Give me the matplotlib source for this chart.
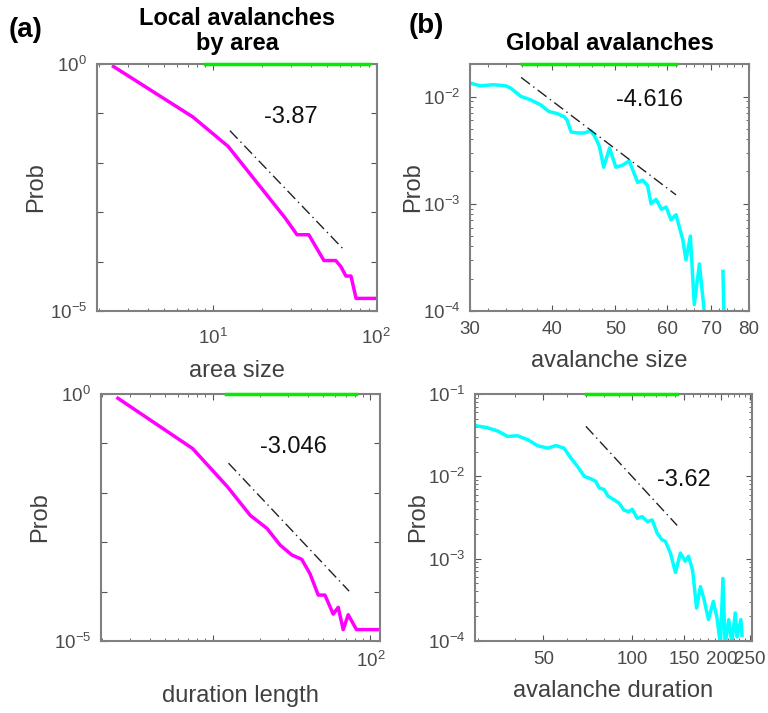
import numpy as np
import matplotlib
matplotlib.use('Agg')
import matplotlib.pyplot as plt
from matplotlib.ticker import FixedLocator, NullFormatter

plt.rcParams['font.family'] = ['Liberation Sans', 'DejaVu Sans']

# local avalanches by area (size distribution)
area_x = [2.46, 7.52, 12.4, 27.7, 32.7, 38.6, 47.8, 56.5, 60.7, 65.2, 70.0, 75.2, 102]
area_p = [0.89, 0.085, 0.0214, 7.6e-4, 3.5e-4, 3.5e-4, 1.05e-4, 1.05e-4, 7.9e-5,
          5.1e-5, 5.1e-5, 1.8e-5, 1.8e-5]

# local avalanches by duration
dur_x = [2.51, 7.45, 12.4, 17.3, 22.1, 26.8, 31.8, 36.7, 41.4, 46.7, 51.5, 58.1,
         62.5, 67.2, 72.3, 81.6, 114]
dur_p = [0.82, 0.079, 0.0133, 3.5e-3, 1.9e-3, 8.7e-4, 5.5e-4, 4.5e-4, 2.3e-4, 8.5e-5,
         8.5e-5, 3.5e-5, 4.8e-5, 1.7e-5, 3.4e-5, 1.7e-5, 1.7e-5]

# global avalanche size
gsize_x = [30, 31.1, 32.6, 34.0, 34.6, 35.9, 37.1, 38.5, 39.6, 40.8, 41.8, 42.2, 42.8,
           43.8, 44.8, 45.9, 46.7, 47.3, 48.0, 49.0, 50.1, 51.3, 52.5, 54.1, 55.0, 56.0,
           56.7, 57.7, 58.8, 59.8, 60.8, 61.9, 63.4, 64.1, 65.1, 66.0, 67.2, 68.6,
           np.nan, 73.0, 73.3]
gsize_p = [0.01334, 0.01259, 0.01288, 0.01259, 0.0120, 0.0100, 0.00933, 0.00832,
           0.00724, 0.00692, 0.00646, 0.00603, 0.00468, 0.00457, 0.00457, 0.00479,
           0.00407, 0.00339, 0.00219, 0.00331, 0.00219, 0.00229, 0.00251, 0.00158,
           0.00166, 0.00148, 0.0010, 0.0011, 0.00089, 0.00093, 0.00071, 0.00079,
           0.00046, 0.00030, 0.0005, 0.000115, 0.000275, 0.00008,
           np.nan, 0.000234, 0.00008]

# global avalanche duration
gdur_x = [29.6, 32.4, 35.1, 37.9, 40.9, 44.3, 47.8, 51.7, 55.2, 58.8, 62.0, 65.3, 68.8,
          72.4, 75.2, 77.3, 80.3, 82.8, 86.8, 90.2, 93.7, 97.4, 100, 104, 108, 112.5,
          116.8, 121.4, 126, 129.5, 134.6, 140, 145.5, 151, 155, 160, 165, 170, 175,
          181, 188, 193.5, 198.6, 202.6, 206, 212, 217, 223, 226, 233, 235]
gdur_p = [0.0412, 0.0389, 0.0355, 0.0305, 0.0311, 0.0279, 0.0236, 0.0220, 0.0236,
          0.0220, 0.0167, 0.0132, 0.0100, 0.00933, 0.00871, 0.00724, 0.00692, 0.00575,
          0.00519, 0.00473, 0.00389, 0.00372, 0.00398, 0.00309, 0.00324, 0.00282,
          0.00295, 0.00204, 0.00170, 0.00162, 0.00117, 0.00068, 0.00117, 0.00093,
          0.00107, 0.00072, 0.000251, 0.000457, 0.000316, 0.000182, 0.000302,
          0.000191, 0.000089, 0.000575, 0.000089, 0.000182, 0.000095, 0.000219,
          0.000112, 0.000182, 0.000117]

# fitted power laws (end points), exponents and fitting ranges
fit_a_x, fit_a_y = [12.7, 62.1], [0.0447, 1.86e-4]
fit_b_x, fit_b_y = [12.6, 73.3], [0.0398, 1.02e-4]
fit_c_x, fit_c_y = [35.9, 61.9], [0.01507, 0.00121]
fit_d_x, fit_d_y = [69.7, 141.9], [0.0405, 0.00253]
exponents = ['-3.87', '-3.046', '-4.616', '-3.62']
label_pos = [(29.8, 0.085), (32.5, 0.083), (56.4, 0.0093), (149.5, 0.0091)]
ranges = [(8.96, 90.8), (12.1, 80.7), (36.0, 61.9), (69.7, 141.9)]

fig = plt.figure(figsize=(7.68, 7.13), dpi=100)
ax1 = fig.add_axes([97/768, 1-311/713, 280/768, 247/713])
ax2 = fig.add_axes([470/768, 1-311/713, 279/768, 247/713])
ax3 = fig.add_axes([101/768, 1-641/713, 279/768, 247/713])
ax4 = fig.add_axes([475/768, 1-641/713, 277/768, 247/713])

GRAY = '#808080'
TXT = '#404040'


def style(ax, ylim, yticks, ylabels, minor_y, ypad):
    ax.set_xscale('log')
    ax.set_yscale('log')
    ax.set_ylim(*ylim)
    for s in ax.spines.values():
        s.set_color(GRAY)
        s.set_linewidth(1.5)
    ax.yaxis.set_major_locator(FixedLocator(yticks))
    ax.set_yticklabels(ylabels)
    if not minor_y:
        ax.yaxis.set_minor_locator(FixedLocator([]))
    ax.yaxis.set_minor_formatter(NullFormatter())
    ax.xaxis.set_minor_formatter(NullFormatter())
    ax.tick_params(which='both', direction='in', top=True, right=True,
                   colors='#555555', labelsize=13.5, labelcolor='#4a4a4a')
    ax.tick_params(which='major', length=4, width=0.8, pad=7)
    ax.tick_params(which='minor', length=2.5, width=0.6)
    ax.set_ylabel('Prob', fontsize=17, color=TXT, labelpad=ypad)


def draw(ax, x, p, color, fx, fy, i):
    ax.plot(x, p, color=color, lw=2.5)
    ax.plot(fx, fy, color='#222222', lw=1, linestyle=(0, (8, 3, 1, 3)))
    tx, ty = label_pos[i]
    ax.text(tx, ty, exponents[i], fontsize=17, ha='center', va='center', color='#111111')
    top = ax.get_ylim()[1]
    ax.plot(ranges[i], [top, top], color='#00ee00', lw=2.5, clip_on=False, zorder=5)


def dec(e):
    return r'$\mathdefault{10^{%d}}$' % e


# (a) top
style(ax1, (1e-5, 1), [1e-5, 1e-4, 1e-3, 1e-2, 1e-1, 1],
      [dec(-5), '', '', '', '', dec(0)], False, 2)
ax1.set_xlim(1.95, 101)
ax1.xaxis.set_major_locator(FixedLocator([10, 100]))
ax1.set_xticklabels([dec(1), dec(2)])
ax1.tick_params(axis='x', which='major', pad=12)
draw(ax1, area_x, area_p, '#ff00ff', fit_a_x, fit_a_y, 0)
ax1.set_xlabel('area size', fontsize=17, color=TXT, labelpad=9)
ax1.set_title('Local avalanches\nby area', fontsize=17, fontweight='bold', pad=10,
              linespacing=1.1)

# (a) bottom
style(ax3, (1e-5, 1), [1e-5, 1e-4, 1e-3, 1e-2, 1e-1, 1],
      [dec(-5), '', '', '', '', dec(0)], False, 2)
ax3.set_xlim(1.96, 115)
ax3.xaxis.set_major_locator(FixedLocator([10, 100]))
ax3.set_xticklabels(['', dec(2)])
draw(ax3, dur_x, dur_p, '#ff00ff', fit_b_x, fit_b_y, 1)
ax3.set_xlabel('duration length', fontsize=17, color=TXT, labelpad=10)

# (b) top
style(ax2, (1e-4, 0.0201), [1e-4, 1e-3, 1e-2], [dec(-4), dec(-3), dec(-2)], True, -1)
ax2.set_xlim(30, 80)
ax2.xaxis.set_major_locator(FixedLocator([30, 40, 50, 60, 70, 80]))
ax2.xaxis.set_minor_locator(FixedLocator(np.arange(30, 81, 2)))
ax2.set_xticklabels(['30', '40', '50', '60', '70', '80'])
draw(ax2, gsize_x, gsize_p, '#00ffff', fit_c_x, fit_c_y, 2)
ax2.set_xlabel('avalanche size', fontsize=17, color=TXT, labelpad=9)
ax2.set_title('Global avalanches', fontsize=17, fontweight='bold', pad=10)

# (b) bottom
style(ax4, (1e-4, 1e-1), [1e-4, 1e-3, 1e-2, 1e-1],
      [dec(-4), dec(-3), dec(-2), dec(-1)], True, -1)
ax4.set_xlim(29.4, 254)
ax4.xaxis.set_major_locator(FixedLocator([50, 100, 150, 200, 250]))
ax4.xaxis.set_minor_locator(FixedLocator(np.arange(30, 251, 10)))
ax4.set_xticklabels(['50', '100', '150', '200', '250'])
draw(ax4, gdur_x, gdur_p, '#00ffff', fit_d_x, fit_d_y, 3)
ax4.set_xlabel('avalanche duration', fontsize=17, color=TXT, labelpad=9)

fig.text(26/768, 1-30/713, '(a)', fontsize=20, fontweight='bold', ha='center', va='center')
fig.text(426/768, 1-26/713, '(b)', fontsize=20, fontweight='bold', ha='center', va='center')

fig.savefig('out.png', dpi=100)
